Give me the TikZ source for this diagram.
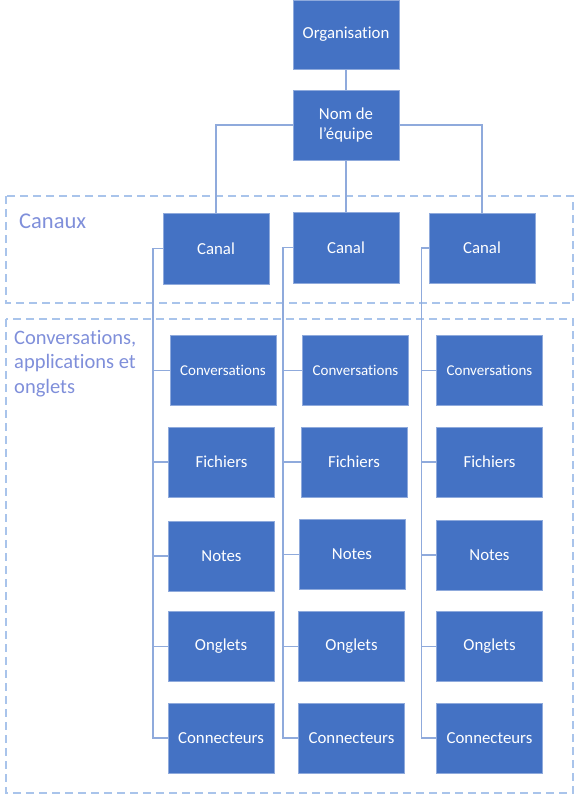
\documentclass[tikz,border=0pt]{standalone}
\usepackage{fontspec}
\setmainfont{Carlito}[Ligatures=NoCommon]
\definecolor{boxblue}{HTML}{4472C4}
\definecolor{linkblue}{HTML}{8FAADC}
\definecolor{dashblue}{HTML}{A9C4EB}
\definecolor{labelblue}{HTML}{7F8FDA}
\begin{document}
\begin{tikzpicture}[x=1pt,y=-1pt,
  bx/.style={draw=boxblue!60!white,line width=0.8pt,fill=boxblue,text=white,
    minimum width=106pt,minimum height=70pt,inner sep=2pt,align=center,
    font=\fontsize{16.8}{19.5}\selectfont},
  small/.style={font=\fontsize{15}{18}\selectfont},
  link/.style={draw=linkblue,line width=1.5pt},
  zone/.style={draw=dashblue,line width=2pt,dash pattern=on 8pt off 5pt},
  zlabel/.style={text=labelblue,font=\fontsize{20.5}{24.5}\selectfont,align=left,inner sep=0pt}]
\useasboundingbox (0,0) rectangle (579,804);
% zones
\draw[zone] (6,196) rectangle (573,303);
\draw[zone] (6,319) rectangle (573,793);
\node[zlabel,anchor=west,font=\fontsize{22.5}{26}\selectfont] (lcan) at (19,221) {Canaux};
\node[zlabel,anchor=north west] (lconv) at (14,330) {Conversations,\\applications et\\onglets};
% top
\node[bx,minimum height=69pt] (org) at (346,34.5) {Organisation};
\node[bx] (nom) at (346,125) {Nom de\\l’équipe};
\node[bx,minimum height=71pt] (can1) at (216,248.5) {Canal};
\node[bx,minimum height=71pt] (can2) at (346,247.5) {Canal};
\node[bx] (can3) at (482,248) {Canal};
% column 1
\node[bx,small] (cv1) at (223,370.5) {Conversations};
\node[bx] (fi1) at (221.5,462) {Fichiers};
\node[bx] (no1) at (221.5,556) {Notes};
\node[bx] (on1) at (221,646.5) {Onglets};
\node[bx] (co1) at (221,738) {Connecteurs};
% column 2
\node[bx,small] (cv2) at (355.5,370.5) {Conversations};
\node[bx] (fi2) at (354,462) {Fichiers};
\node[bx] (no2) at (352,554.5) {Notes};
\node[bx] (on2) at (351.5,646.5) {Onglets};
\node[bx] (co2) at (351.5,738) {Connecteurs};
% column 3
\node[bx,small] (cv3) at (489.5,370.5) {Conversations};
\node[bx] (fi3) at (489.5,462) {Fichiers};
\node[bx] (no3) at (489.5,555) {Notes};
\node[bx] (on3) at (489.5,646.5) {Onglets};
\node[bx] (co3) at (489.5,738) {Connecteurs};
% trunks
\coordinate (t1) at (153,0);
\coordinate (t2) at (283,0);
\coordinate (t3) at (421.5,0);
% links top
\draw[link] (org.south) -- (nom.north);
\draw[link] (nom.west) -| (can1.north);
\draw[link] (nom.south) -- (can2.north);
\draw[link] (nom.east) -| (can3.north);
% column links
\draw[link] (can1.west) -- (can1.west -| t1) |- (co1.west);
\draw[link] (can2.west) -- (can2.west -| t2) |- (co2.west);
\draw[link] (can3.west) -- (can3.west -| t3) |- (co3.west);
\foreach \b in {cv1,fi1,no1,on1}{\draw[link] (\b.west) -- (\b.west -| t1);}
\foreach \b in {cv2,fi2,no2,on2}{\draw[link] (\b.west) -- (\b.west -| t2);}
\foreach \b in {cv3,fi3,no3,on3}{\draw[link] (\b.west) -- (\b.west -| t3);}
\end{tikzpicture}
\end{document}
